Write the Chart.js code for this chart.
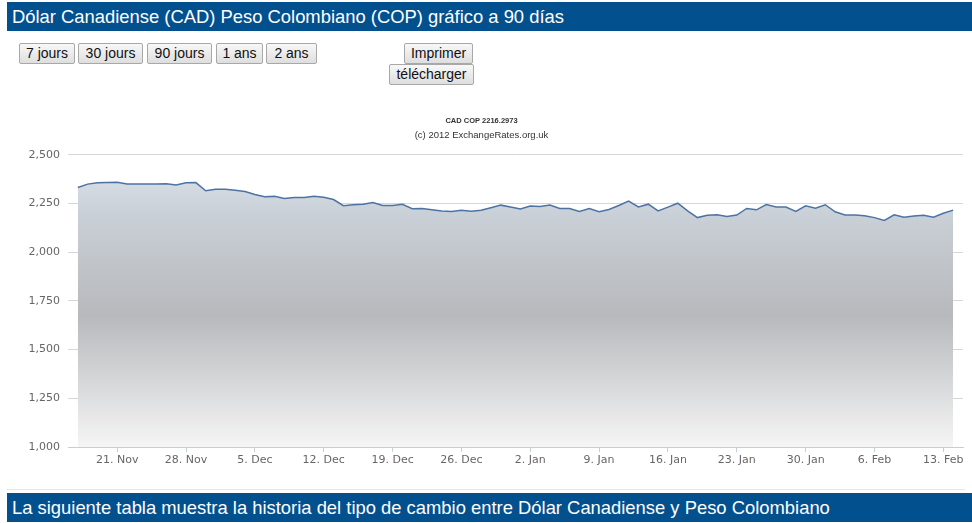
<!DOCTYPE html>
<html>
<head>
<meta charset="utf-8">
<script src="https://cdn.jsdelivr.net/npm/chart.js@4.4.1/dist/chart.umd.min.js"></script>
<style>
  body { margin: 0; width: 972px; height: 523px; background: #fff; font-family: "Liberation Sans", Arial, sans-serif; overflow: hidden; position: relative; }
  .bar { position: absolute; left: 7px; right: 0; background: #03508f; color: #fff; font-size: 18.4px; line-height: 29px; padding-left: 5px; }
  .btn { position: absolute; height: 21px; box-sizing: border-box; border: 1px solid #a8a8a8; border-radius: 2px;
         background: linear-gradient(#f8f8f8, #dedede); font: 14px "Liberation Sans", Arial, sans-serif; color: #111;
         text-align: center; line-height: 19px; }
  #chartBox { position: absolute; left: 0; top: 95px; width: 972px; height: 392px; }
  .sep { position: absolute; left: 7px; width: 958px; top: 489px; border-top: 1px solid #e6e6e6; }
</style>
</head>
<body>
<div class="bar" style="top:2px;">Dólar Canadiense (CAD) Peso Colombiano (COP) gráfico a 90 días</div>

<div class="btn" style="left:19px;top:43px;width:56px;">7 jours</div>
<div class="btn" style="left:78px;top:43px;width:65px;">30 jours</div>
<div class="btn" style="left:147px;top:43px;width:65px;">90 jours</div>
<div class="btn" style="left:216px;top:43px;width:47px;">1 ans</div>
<div class="btn" style="left:266px;top:43px;width:51px;">2 ans</div>
<div class="btn" style="left:404px;top:43px;width:69px;">Imprimer</div>
<div class="btn" style="left:389px;top:64px;width:85px;">télécharger</div>

<div id="chartBox"><canvas id="rateChart"></canvas></div>
<div class="sep"></div>

<div class="bar" style="top:493px;">La siguiente tabla muestra la historia del tipo de cambio entre Dólar Canadiense y Peso Colombiano</div>

<script>
// CAD -> COP, one value per day from 17 Nov to 14 Feb (index 0 = 17 Nov)
const rates = [
  2333, 2350, 2357, 2358, 2360, 2350, 2350, 2350, 2350, 2352,
  2345, 2357, 2358, 2316, 2324, 2324, 2318, 2312, 2297, 2285,
  2287, 2276, 2281, 2281, 2288, 2283, 2271, 2239, 2244, 2246,
  2255, 2240, 2240, 2246, 2224, 2225, 2218, 2212, 2209, 2216,
  2211, 2216, 2229, 2242, 2233, 2222, 2237, 2235, 2243, 2225,
  2225, 2210, 2224, 2208, 2220, 2240, 2263, 2233, 2247, 2212,
  2232, 2252, 2213, 2178, 2190, 2193, 2184, 2191, 2225, 2218,
  2245, 2232, 2232, 2210, 2239, 2226, 2244, 2208, 2191, 2192,
  2188, 2178, 2163, 2192, 2180, 2186, 2190, 2180, 2200, 2216.2973
];

// x axis: weekly ticks (day index) and their labels
const tickPos = [4, 11, 18, 25, 32, 39, 46, 53, 60, 67, 74, 81, 88];
const tickLabels = ['21. Nov', '28. Nov', '5. Dec', '12. Dec', '19. Dec', '26. Dec',
                    '2. Jan', '9. Jan', '16. Jan', '23. Jan', '30. Jan', '6. Feb', '13. Feb'];

// y axis ticks
const yTicks = [1000, 1250, 1500, 1750, 2000, 2250, 2500];

const titleText = 'CAD COP 2216.2973';
const subtitleText = '(c) 2012 ExchangeRates.org.uk';

function areaGradient(context) {
    const chart = context.chart;
    const area = chart.chartArea;
    if (!area) return '#c0c4c8';
    const g = chart.ctx.createLinearGradient(0, area.top, 0, area.bottom);
    g.addColorStop(0, '#dfe5ec');
    g.addColorStop(0.2, '#cad0d7');
    g.addColorStop(0.55, '#b7b9bc');
    g.addColorStop(1, '#f5f5f5');
    return g;
}

document.addEventListener('DOMContentLoaded', function() {
    const ctx = document.getElementById('rateChart');

    new Chart(ctx, {
        type: 'line',
        data: {
            datasets: [{
                label: 'CAD COP',
                data: rates.map((v, i) => ({ x: i, y: v })),
                borderColor: '#4d73a4',
                borderWidth: 1.5,
                backgroundColor: areaGradient,
                fill: 'start',
                pointRadius: 0,
                tension: 0
            }]
        },
        options: {
            responsive: true,
            maintainAspectRatio: false,
            animation: false,
            layout: {
                padding: { top: 0, right: 9, bottom: 0, left: 0 }
            },
            plugins: {
                legend: { display: false },
                tooltip: { enabled: false },
                title: {
                    display: true,
                    text: titleText,
                    color: '#333',
                    font: { family: 'Liberation Sans', size: 7.5, weight: 'bold' },
                    padding: { top: 21, bottom: 0 }
                },
                subtitle: {
                    display: true,
                    text: subtitleText,
                    color: '#333',
                    font: { family: 'Liberation Sans', size: 9.5 },
                    padding: { top: 5, bottom: 13.5 }
                }
            },
            scales: {
                x: {
                    type: 'linear',
                    min: -1,
                    max: rates.length,
                    afterBuildTicks: function(scale) {
                        scale.ticks = tickPos.map(v => ({ value: v }));
                    },
                    afterFit: function(scale) {
                        scale.height = 40;
                    },
                    ticks: {
                        autoSkip: false,
                        maxRotation: 0,
                        padding: 2,
                        color: '#666',
                        font: { family: 'DejaVu Sans', size: 11 },
                        callback: function(value) {
                            const k = tickPos.indexOf(value);
                            return k >= 0 ? tickLabels[k] : '';
                        }
                    },
                    grid: {
                        drawOnChartArea: false,
                        drawTicks: true,
                        tickLength: 5,
                        tickColor: '#c0d0e0'
                    },
                    border: { display: true, color: '#c0d0e0', width: 1 }
                },
                y: {
                    min: 1000,
                    max: 2500,
                    afterBuildTicks: function(scale) {
                        scale.ticks = yTicks.map(v => ({ value: v }));
                    },
                    afterFit: function(scale) {
                        scale.width = 68;
                    },
                    ticks: {
                        padding: 8,
                        color: '#666',
                        font: { family: 'DejaVu Sans', size: 11 },
                        callback: function(value) {
                            return value.toLocaleString('en-US');
                        }
                    },
                    grid: {
                        color: '#d6d6d6',
                        drawTicks: false
                    },
                    border: { display: false }
                }
            }
        }
    });
});
</script>
</body>
</html>
